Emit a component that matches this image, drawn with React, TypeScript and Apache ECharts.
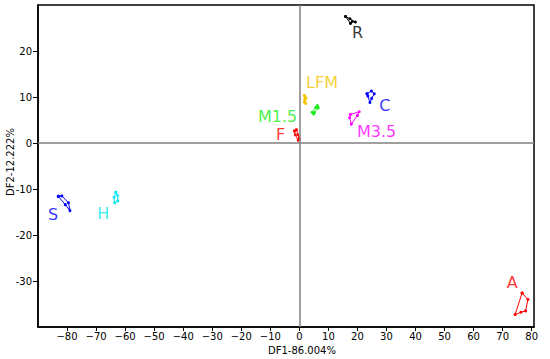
import React, { useEffect, useRef } from "react";
import * as echarts from "echarts";

const xTicks = [-80, -70, -60, -50, -40, -30, -20, -10, 0, 10, 20, 30, 40, 50, 60, 70, 80];
const yTicks = [-30, -20, -10, 0, 10, 20];

const groupNames = ["R", "LFM", "M1.5", "F", "C", "M3.5", "S", "H", "A"];
const groupColors = ["#000000", "#f5c400", "#1aee1a", "#ff0000", "#0000ff", "#ff00ff", "#0000ff", "#00e8f0", "#ff0000"];

const R = [[15.9, 27.5], [17.4, 27.0], [19.3, 26.3], [18.2, 26.4], [17.6, 26.0], [15.9, 27.5]];
const LFM = [[1.8, 10.3], [2.3, 9.8], [1.9, 9.3], [2.2, 8.6], [1.7, 8.9], [1.9, 9.6], [1.8, 10.3]];
const M15 = [[6.2, 8.1], [6.5, 7.6], [5.2, 6.6], [4.9, 6.3], [4.4, 6.7], [5.6, 7.7], [6.2, 8.1]];
const F = [[-1.7, 2.6], [-1.0, 2.9], [-0.5, 1.8], [0.0, 1.0], [-0.4, 0.6], [-1.4, 1.8], [-1.7, 2.6]];
const C = [[23.3, 10.7], [24.8, 11.3], [25.8, 10.7], [24.9, 9.7], [24.3, 8.8], [23.6, 10.2], [23.3, 10.7]];
const M35 = [[17.6, 6.2], [20.6, 6.8], [20.0, 6.0], [17.9, 4.1], [17.3, 5.5], [17.6, 6.2]];
const S = [[-83.0, -11.6], [-81.8, -11.5], [-79.5, -13.0], [-79.0, -14.7], [-80.6, -13.4], [-83.0, -11.6]];
const H = [[-63.2, -10.7], [-62.6, -11.4], [-62.5, -12.6], [-63.6, -13.0], [-63.8, -11.8], [-63.2, -10.7]];
const A = [[76.7, -32.6], [78.7, -34.0], [77.9, -36.5], [76.3, -36.8], [74.3, -37.3], [76.7, -32.6]];
const groupPoints = [R, LFM, M15, F, C, M35, S, H, A];

const labelPositions = [
  [20.0, 24.0],
  [7.8, 13.2],
  [-7.5, 5.7],
  [-6.5, 1.8],
  [29.4, 8.1],
  [26.6, 2.6],
  [-84.8, -15.5],
  [-67.5, -15.4],
  [73.3, -30.4],
];

const FONT = "DejaVu Sans";

export default function App() {
  const ref = useRef<HTMLDivElement>(null);
  useEffect(() => {
    if (!ref.current) return;
    const chart = echarts.init(ref.current, null, { renderer: "svg" });
    const lineSeries = groupPoints.map((pts, i) => ({
      type: "line",
      name: groupNames[i],
      data: pts,
      symbol: "circle",
      symbolSize: 3,
      showSymbol: true,
      itemStyle: { color: groupColors[i] },
      lineStyle: { color: groupColors[i], width: 1 },
      silent: true,
      z: 3,
    }));
    const labelSeries = {
      type: "scatter",
      symbolSize: 0,
      data: labelPositions.map((p, i) => ({
        value: p,
        label: {
          show: true,
          position: "inside",
          formatter: groupNames[i],
          color: groupColors[i],
          fontSize: 16,
          fontFamily: FONT,
        },
      })),
      silent: true,
      z: 4,
    };
    const zeroSeries = {
      type: "line",
      data: [],
      markLine: {
        silent: true,
        symbol: "none",
        label: { show: false },
        lineStyle: { color: "#808080", width: 1.5, type: "solid" },
        data: [{ xAxis: 0 }, { yAxis: 0 }],
      },
      z: 2,
    };
    chart.setOption({
      animation: false,
      grid: {
        left: 38,
        right: 16,
        top: 5,
        bottom: 32,
        show: true,
        borderColor: "#000",
        borderWidth: 1.5,
        backgroundColor: "#fff",
      },
      xAxis: {
        type: "value",
        min: -90,
        max: 80.8,
        interval: 10,
        splitLine: { show: false },
        axisLine: { show: true, onZero: false, lineStyle: { color: "#000", width: 1.5 } },
        axisTick: { show: true, length: 4, customValues: xTicks, lineStyle: { color: "#000" } },
        axisLabel: {
          customValues: xTicks,
          margin: 4,
          color: "#000",
          fontSize: 10,
          fontFamily: FONT,
          formatter: (v: number) => (v < 0 ? "\u2212" + Math.abs(v) : String(v)),
        },
      },
      yAxis: {
        type: "value",
        min: -40,
        max: 30,
        interval: 10,
        splitLine: { show: false },
        axisLine: { show: true, onZero: false, lineStyle: { color: "#000", width: 1.5 } },
        axisTick: { show: true, length: 5, customValues: yTicks, lineStyle: { color: "#000" } },
        axisLabel: {
          customValues: yTicks,
          margin: 6,
          color: "#000",
          fontSize: 10,
          fontFamily: FONT,
          formatter: (v: number) => String(v),
        },
      },
      graphic: [
        {
          type: "text",
          x: 302,
          y: 350,
          style: {
            text: "DF1-86.004%",
            fill: "#000",
            font: `10px '${FONT}'`,
            textAlign: "center",
            textVerticalAlign: "middle",
          },
        },
        {
          type: "text",
          x: 10,
          y: 162,
          rotation: Math.PI / 2,
          style: {
            text: "DF2-12.222%",
            fill: "#000",
            font: `10px '${FONT}'`,
            textAlign: "center",
            textVerticalAlign: "middle",
          },
        },
      ],
      series: [zeroSeries, ...lineSeries, labelSeries],
    });
    return () => chart.dispose();
  }, []);
  return <div ref={ref} style={{ width: 550, height: 359, position: "absolute", left: 0, top: 0 }} />;
}
